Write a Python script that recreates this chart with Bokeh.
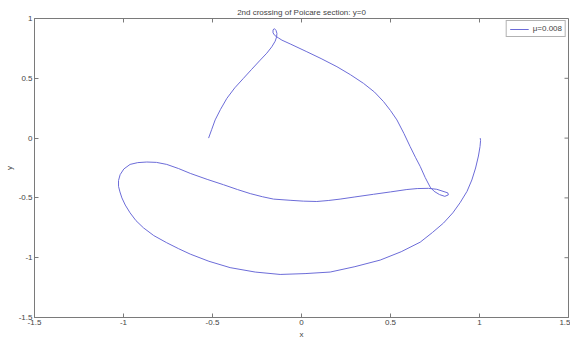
from bokeh.plotting import figure
from bokeh.models import FixedTicker, Range1d
from bokeh.embed import file_html
from bokeh.resources import INLINE

TITLE = "2nd crossing of Poicare section: y=0"
X_LABEL = "x"
Y_LABEL = "y"
SERIES_NAME = "\u03bc=0.008"

x_ticks = [-1.5, -1.0, -0.5, 0.0, 0.5, 1.0, 1.5]
x_tick_labels = ["-1.5", "-1", "-0.5", "0", "0.5", "1", "1.5"]
y_ticks = [-1.5, -1.0, -0.5, 0.0, 0.5, 1.0]
y_tick_labels = ["-1.5", "-1", "-0.5", "0", "0.5", "1"]

# trajectory of the 2nd crossing
curve_x = [-0.522, -0.505, -0.485, -0.455, -0.419, -0.375, -0.326, -0.28, -0.232, -0.195,
           -0.167, -0.148, -0.14, -0.138, -0.143, -0.152, -0.16, -0.16, -0.15, -0.13,
           -0.11, -0.06, 0.03, 0.11, 0.199, 0.275, 0.348, 0.41, 0.461, 0.5,
           0.536, 0.575, 0.61, 0.64, 0.667, 0.695, 0.723, 0.745, 0.775, 0.805,
           0.825, 0.822, 0.795, 0.76, 0.713, 0.65, 0.592, 0.5, 0.404, 0.3,
           0.217, 0.15, 0.086, 0.01, -0.064, -0.157, -0.22, -0.288, -0.36, -0.438,
           -0.53, -0.625, -0.69, -0.757, -0.815, -0.869, -0.92, -0.963, -0.998, -1.019,
           -1.028, -1.028, -1.02, -1.009, -0.99, -0.963, -0.93, -0.888, -0.83, -0.757,
           -0.69, -0.625, -0.52, -0.401, -0.26, -0.12, 0.02, 0.161, 0.3, 0.442,
           0.56, 0.667, 0.735, 0.798, 0.85, 0.891, 0.93, 0.957, 0.978, 0.994,
           1.003, 1.006, 1.004]
curve_y = [0.0, 0.07, 0.152, 0.24, 0.333, 0.42, 0.5, 0.575, 0.652, 0.71,
           0.763, 0.81, 0.845, 0.875, 0.9, 0.915, 0.905, 0.88, 0.858, 0.838,
           0.819, 0.785, 0.722, 0.665, 0.597, 0.53, 0.458, 0.385, 0.305, 0.23,
           0.152, 0.04, -0.07, -0.16, -0.237, -0.33, -0.41, -0.445, -0.472, -0.487,
           -0.475, -0.458, -0.445, -0.428, -0.42, -0.422, -0.43, -0.45, -0.47, -0.492,
           -0.51, -0.522, -0.53, -0.527, -0.52, -0.51, -0.49, -0.464, -0.43, -0.39,
           -0.345, -0.295, -0.255, -0.22, -0.203, -0.2, -0.205, -0.22, -0.258, -0.306,
           -0.355, -0.403, -0.45, -0.5, -0.56, -0.625, -0.69, -0.75, -0.815, -0.875,
           -0.925, -0.97, -1.03, -1.083, -1.12, -1.14, -1.133, -1.12, -1.075, -1.02,
           -0.95, -0.87, -0.79, -0.71, -0.625, -0.54, -0.445, -0.35, -0.25, -0.15,
           -0.07, -0.02, 0.0]

FONT = "Liberation Sans"
AXIS_COLOR = "#7a7a7a"
TEXT_COLOR = "#444444"
LINE_COLOR = "#6c6cd8"

X0, X1 = -1.5, 1.5
Y0, Y1 = -1.5, 1.0

p = figure(width=570, height=341, output_backend="svg", toolbar_location=None,
           x_range=Range1d(X0, X1), y_range=Range1d(Y0, Y1),
           title=TITLE, min_border_left=34, min_border_right=2,
           min_border_top=18, min_border_bottom=22)
p.background_fill_color = "white"
p.border_fill_color = "white"
p.outline_line_color = AXIS_COLOR
p.grid.visible = False

p.title.align = "center"
p.title.text_font = FONT
p.title.text_font_size = "8px"
p.title.text_font_style = "normal"
p.title.text_color = TEXT_COLOR
p.title.standoff = 3
p.title.offset = 0


def style_axis(ax, ticks, labels):
    ax.ticker = FixedTicker(ticks=ticks)
    ax.major_label_overrides = {t: l for t, l in zip(ticks, labels)}
    ax.axis_line_color = AXIS_COLOR
    ax.major_tick_line_color = AXIS_COLOR
    ax.minor_tick_line_color = None
    ax.major_tick_in = 4
    ax.major_tick_out = 0
    ax.major_label_text_font = FONT
    ax.major_label_text_color = TEXT_COLOR
    ax.major_label_text_font_size = "8px"
    ax.major_label_standoff = 2
    ax.axis_label_text_font = FONT
    ax.axis_label_text_font_style = "normal"
    ax.axis_label_text_color = TEXT_COLOR
    ax.axis_label_text_font_size = "8px"
    ax.axis_label_standoff = 2


xa = p.xaxis[0]
ya = p.yaxis[0]
style_axis(xa, x_ticks, x_tick_labels)
style_axis(ya, y_ticks, y_tick_labels)
xa.axis_label = X_LABEL
ya.axis_label = Y_LABEL

# inward ticks on the top and right edges (box style)
tick_len_y = 4 * (Y1 - Y0) / 300.0
tick_len_x = 4 * (X1 - X0) / 534.0
p.segment(x0=x_ticks, y0=[Y1] * len(x_ticks), x1=x_ticks,
          y1=[Y1 - tick_len_y] * len(x_ticks), line_color=AXIS_COLOR, line_width=1)
p.segment(x0=[X1] * len(y_ticks), y0=y_ticks, x1=[X1 - tick_len_x] * len(y_ticks),
          y1=y_ticks, line_color=AXIS_COLOR, line_width=1)

p.line(curve_x, curve_y, line_color=LINE_COLOR, line_width=1, legend_label=SERIES_NAME)

lg = p.legend[0]
lg.location = "top_right"
lg.label_text_font = FONT
lg.label_text_font_size = "8px"
lg.label_text_color = TEXT_COLOR
lg.label_height = 8
lg.glyph_height = 8
lg.glyph_width = 19
lg.label_standoff = 4
lg.padding = 3
lg.spacing = 0
lg.margin = 2
lg.border_line_color = "#666666"
lg.background_fill_color = "white"

open("out.html", "w").write(file_html(p, INLINE))
